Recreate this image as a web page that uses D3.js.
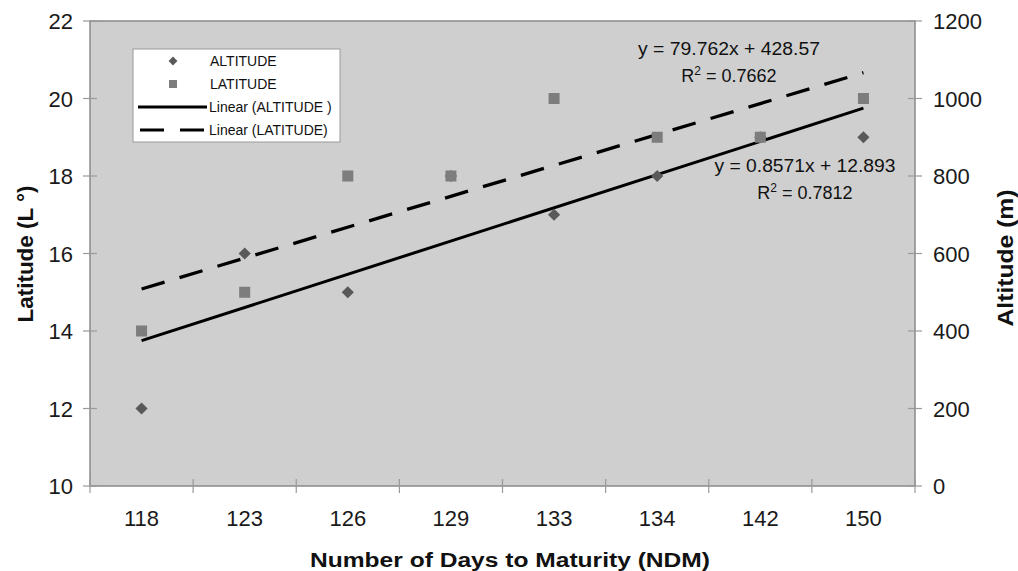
<!DOCTYPE html>
<html><head><meta charset="utf-8">
<script src="https://cdn.jsdelivr.net/npm/d3@7"></script>
<style>
html,body{margin:0;padding:0;background:#fff;}
text{font-family:"Liberation Sans",Arial,sans-serif;}
</style></head>
<body>
<svg id="chart" width="1018" height="571"></svg>
<script>
// ---- data ----
const categories = ["118","123","126","129","133","134","142","150"];
const latitude = [14, 15, 18, 18, 20, 19, 19, 20];          // left axis (squares)
const altitude = [200, 600, 500, 800, 700, 800, 900, 900];  // right axis (diamonds)
const latTicks = [10, 12, 14, 16, 18, 20, 22];
const altTicks = [0, 200, 400, 600, 800, 1000, 1200];
const eqLatitude = ["y = 79.762x + 428.57", "0.7662"];
const eqAltitude = ["y = 0.8571x + 12.893", "0.7812"];
const legendItems = ["ALTITUDE", "LATITUDE", "Linear (ALTITUDE )", "Linear (LATITUDE)"];

const svg = d3.select("#chart");
const L = 90, R = 915, T = 21, B = 486;
const axisGray = "#8a8a8a", tickGray = "#9a9a9a", txt = "#1a1a1a";

const x = d3.scaleBand().domain(categories).range([L, R]).padding(0);
const yL = d3.scaleLinear().domain([10, 22]).range([B, T]);
const yR = d3.scaleLinear().domain([0, 1200]).range([B, T]);

// plot area
svg.append("rect").attr("x", L).attr("y", T).attr("width", R - L).attr("height", B - T)
  .attr("fill", "#cfcfcf").attr("stroke", axisGray).attr("stroke-width", 1.5);

// left axis (cross ticks)
const gl = svg.append("g");
gl.selectAll("line").data(latTicks).join("line")
  .attr("x1", L - 7).attr("x2", L + 7).attr("y1", d => yL(d)).attr("y2", d => yL(d))
  .attr("stroke", tickGray).attr("stroke-width", 1.2);
gl.selectAll("text").data(latTicks).join("text")
  .attr("x", L - 17).attr("y", d => yL(d) + 8).attr("text-anchor", "end")
  .style("font-size", "22px").attr("fill", txt).text(d => d3.format("d")(d));

// right axis
const gr = svg.append("g");
gr.selectAll("line").data(altTicks).join("line")
  .attr("x1", R - 7).attr("x2", R + 7).attr("y1", d => yR(d)).attr("y2", d => yR(d))
  .attr("stroke", tickGray).attr("stroke-width", 1.2);
gr.selectAll("text").data(altTicks).join("text")
  .attr("x", R + 18).attr("y", d => yR(d) + 8).attr("text-anchor", "start")
  .style("font-size", "22px").attr("fill", txt).text(d => d3.format("d")(d));

// x axis: ticks at category boundaries, labels at centers
const bounds = categories.map(c => x(c)).concat([x(categories[categories.length - 1]) + x.bandwidth()]);
const gx = svg.append("g");
gx.selectAll("line").data(bounds).join("line")
  .attr("x1", d => d).attr("x2", d => d).attr("y1", B - 7).attr("y2", B + 7)
  .attr("stroke", tickGray).attr("stroke-width", 1.2);
gx.selectAll("text").data(categories).join("text")
  .attr("x", d => x(d) + x.bandwidth() / 2).attr("y", B + 40)
  .attr("text-anchor", "middle").attr("fill", txt).style("font-size", "22px").text(d => d);

// trend lines (least squares on category index 1..n, as in the spreadsheet)
function fit(vals) {
  const xs = vals.map((_, i) => i + 1);
  const mx = d3.mean(xs), my = d3.mean(vals);
  const sxy = d3.sum(xs, (xi, i) => (xi - mx) * (vals[i] - my));
  const sxx = d3.sum(xs, xi => (xi - mx) ** 2);
  const m = sxy / sxx; return { m, b: my - m * mx };
}
const cx = i => x(categories[i]) + x.bandwidth() / 2;
const line = d3.line();
const fA = fit(altitude), fL = fit(latitude);
const ends = [0, categories.length - 1];
svg.append("path")
  .attr("d", line(ends.map(i => [cx(i), yR(fA.m * (i + 1) + fA.b)])))
  .attr("stroke", "#000").attr("stroke-width", 3).attr("fill", "none");
svg.append("path")
  .attr("d", line(ends.map(i => [cx(i), yL(fL.m * (i + 1) + fL.b)])))
  .attr("stroke", "#000").attr("stroke-width", 3.3).attr("fill", "none")
  .attr("stroke-dasharray", "24,15.6");

// markers
svg.selectAll("path.dia").data(altitude).join("path").attr("class", "dia")
  .attr("d", d3.symbol(d3.symbolDiamond2, 95)())
  .attr("transform", (d, i) => `translate(${cx(i)},${yR(d)})`)
  .attr("fill", "#595959");
svg.selectAll("rect.sq").data(latitude).join("rect").attr("class", "sq")
  .attr("x", (d, i) => cx(i) - 5.5).attr("y", d => yL(d) - 5.5)
  .attr("width", 11).attr("height", 11).attr("fill", "#7d7d7d");

// equations
function eq(lines, cxp, y1, len1, len2) {
  svg.append("text").attr("x", cxp).attr("y", y1).attr("text-anchor", "middle")
    .style("font-size", "18px").attr("fill", "#111")
    .attr("textLength", len1).attr("lengthAdjust", "spacingAndGlyphs").text(lines[0]);
  const r = svg.append("text").attr("x", cxp).attr("y", y1 + 27).attr("text-anchor", "middle")
    .style("font-size", "18px").attr("fill", "#111");
  r.append("tspan").text("R");
  r.append("tspan").text("2").attr("dy", -7).style("font-size", "12px");
  r.append("tspan").text(" = " + lines[1]).attr("dy", 7);
}
eq(eqLatitude, 729, 55, 182, 98);
eq(eqAltitude, 805, 172, 181, 100);

// legend
const lg = svg.append("g");
lg.append("rect").attr("x", 133).attr("y", 49).attr("width", 207).attr("height", 93)
  .attr("fill", "#fff").attr("stroke", "#9a9a9a").attr("stroke-width", 1);
const rowsY = [61, 84, 107, 130];
lg.append("path").attr("d", d3.symbol(d3.symbolDiamond2, 50)())
  .attr("transform", `translate(173,${rowsY[0]})`).attr("fill", "#595959");
lg.append("rect").attr("x", 169).attr("y", rowsY[1] - 4).attr("width", 8).attr("height", 8).attr("fill", "#7d7d7d");
lg.append("line").attr("x1", 138).attr("x2", 207).attr("y1", rowsY[2]).attr("y2", rowsY[2])
  .attr("stroke", "#000").attr("stroke-width", 3);
lg.append("line").attr("x1", 140).attr("x2", 205).attr("y1", rowsY[3]).attr("y2", rowsY[3])
  .attr("stroke", "#000").attr("stroke-width", 3).attr("stroke-dasharray", "24,16");
lg.selectAll("text").data(legendItems).join("text")
  .attr("x", (d, i) => i < 2 ? 210 : 209).attr("y", (d, i) => rowsY[i] + 5)
  .style("font-size", "14px").attr("fill", "#111").text(d => d);

// axis titles
svg.append("text").attr("x", 510).attr("y", 567).attr("text-anchor", "middle")
  .style("font-size", "20px").style("font-weight", "bold").attr("fill", "#111")
  .attr("textLength", 400).attr("lengthAdjust", "spacingAndGlyphs")
  .text("Number of Days to Maturity (NDM)");
svg.append("text").attr("transform", "translate(33,254) rotate(-90)").attr("text-anchor", "middle")
  .style("font-size", "22px").style("font-weight", "bold").attr("fill", "#111")
  .attr("textLength", 137).attr("lengthAdjust", "spacingAndGlyphs")
  .text("Latitude (L °)");
svg.append("text").attr("transform", "translate(1013,258) rotate(-90)").attr("text-anchor", "middle")
  .style("font-size", "22px").style("font-weight", "bold").attr("fill", "#111")
  .attr("textLength", 137).attr("lengthAdjust", "spacingAndGlyphs")
  .text("Altitude (m)");
</script>
</body></html>
